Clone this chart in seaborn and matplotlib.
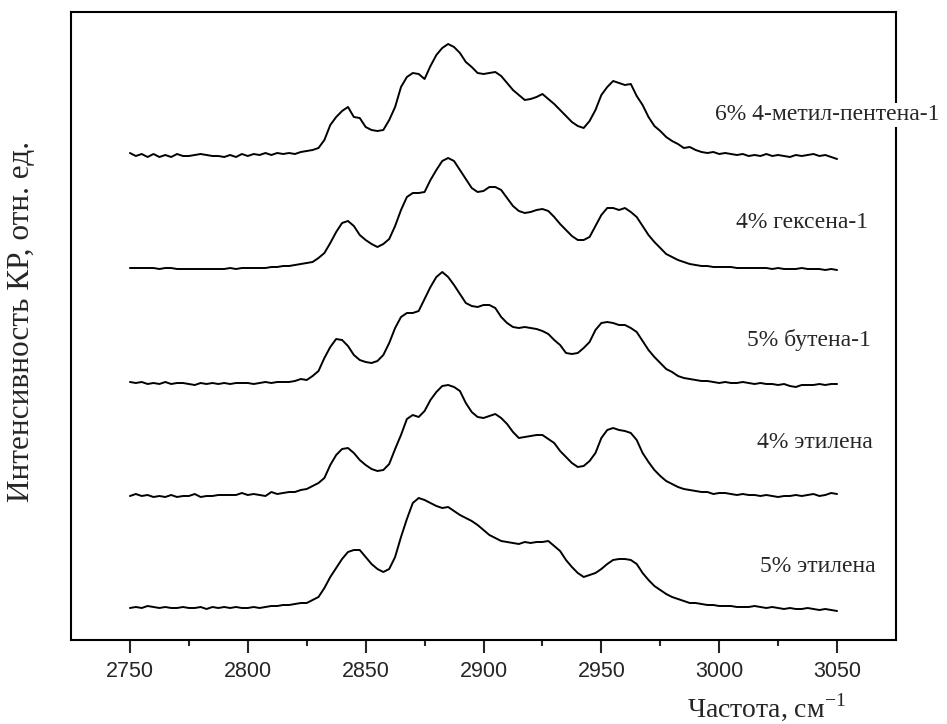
import numpy as np
import pandas as pd
import matplotlib
matplotlib.use("Agg")
import matplotlib.pyplot as plt
import seaborn as sns

# Raman shift grid, cm^-1 (step 2.5)
wavenumber = np.arange(2750.0, 3050.0 + 0.1, 2.5)

labels = ["6% 4-метил-пентена-1", "4% гексена-1", "5% бутена-1", "4% этилена", "5% этилена"]
offsets = [485, 372, 257, 145, 33]

methylpentene_6 = [
    2, -1, 1, -2, 1, -2, 0, -2, 1, -1, -1, 0, 1, 0, -1, -1, -2, 0, -2, 1,
    -1, 1, 0, 2, 0, 2, 1, 2, 1, 3, 4, 5, 7, 15, 30, 38, 44, 48, 38, 37,
    28, 25, 24, 25, 35, 48, 68, 78, 82, 81, 76, 89, 100, 107, 111, 108, 102, 93, 88, 82,
    81, 82, 83, 79, 72, 65, 60, 55, 56, 58, 61, 56, 51, 45, 39, 33, 29, 27, 34, 45,
    60, 68, 74, 72, 70, 71, 59, 50, 38, 29, 24, 18, 14, 11, 7, 8, 5, 3, 2, 3,
    1, 2, 1, 0, 1, -1, 0, -1, 1, -1, 0, -1, -2, 0, -1, 0, 1, -1, 0, -2,
    -4]
hexene_4 = [
    0, 0, 0, 0, 0, -1, 0, 0, -1, -1, -1, -1, -1, -1, -1, -1, -1, 0, -1, 0,
    0, 0, 0, 0, 1, 1, 2, 2, 3, 4, 5, 6, 10, 15, 25, 36, 45, 47, 42, 33,
    28, 24, 21, 24, 29, 42, 58, 71, 75, 75, 76, 88, 98, 107, 110, 107, 98, 89, 80, 76,
    77, 81, 81, 78, 70, 62, 57, 55, 56, 58, 59, 57, 51, 44, 38, 32, 28, 28, 31, 42,
    53, 60, 60, 58, 60, 56, 51, 42, 33, 26, 20, 14, 11, 8, 6, 4, 3, 2, 2, 1,
    1, 1, 1, 0, 0, 0, 0, 0, 0, -1, 0, -1, -1, -1, 0, -1, -1, -1, -2, -1,
    -2]
butene_5 = [
    1, 0, 1, -1, 0, -1, 1, -1, 0, 0, -1, -2, 0, -1, 0, -1, 0, -1, 0, 0,
    0, -1, 0, 1, 0, 1, 1, 1, 2, 4, 3, 7, 12, 25, 36, 44, 43, 37, 28, 23,
    21, 20, 22, 28, 40, 55, 66, 70, 70, 72, 84, 96, 106, 111, 106, 98, 89, 80, 77, 76,
    78, 78, 75, 66, 60, 56, 55, 56, 55, 54, 52, 49, 43, 38, 30, 29, 30, 35, 41, 53,
    60, 61, 60, 58, 58, 55, 51, 42, 33, 26, 20, 14, 11, 7, 5, 4, 3, 2, 2, 1,
    0, 1, 0, 0, 1, 0, -1, 0, -1, -1, -2, -1, -3, -4, -2, -2, -2, -1, -2, -1,
    -1]
ethylene_4 = [
    -1, 1, -1, 0, -2, -1, -2, 0, -2, -1, -1, 1, -2, -1, -1, 0, 0, 0, 0, 2,
    0, 1, 0, -1, 3, 1, 2, 3, 3, 5, 6, 9, 12, 17, 30, 40, 46, 47, 42, 35,
    30, 26, 24, 25, 31, 46, 60, 76, 80, 78, 84, 95, 103, 109, 110, 108, 104, 92, 83, 78,
    77, 79, 81, 77, 71, 63, 57, 58, 59, 60, 60, 56, 52, 44, 38, 32, 28, 29, 34, 42,
    57, 65, 67, 65, 64, 62, 55, 42, 33, 25, 19, 14, 11, 8, 6, 5, 4, 3, 3, 1,
    2, 2, 1, 0, 1, 0, 0, -1, 0, -1, -2, -1, -1, 0, -1, 0, 1, -1, 0, 2,
    1]
ethylene_5 = [
    -1, 0, -1, 1, 0, -1, 0, -1, -1, 0, -1, -1, 0, -2, 0, -1, 0, -1, 0, -1,
    -1, 0, -1, 0, 1, 1, 2, 2, 3, 4, 4, 7, 10, 19, 30, 39, 48, 55, 57, 57,
    50, 43, 38, 35, 38, 50, 70, 88, 104, 109, 107, 104, 101, 99, 100, 96, 92, 89, 86, 82,
    77, 72, 69, 66, 65, 64, 63, 65, 64, 65, 65, 66, 61, 56, 47, 40, 34, 30, 32, 34,
    38, 43, 47, 48, 48, 47, 43, 34, 27, 21, 17, 13, 10, 8, 6, 4, 4, 3, 2, 2,
    1, 1, 1, 0, 0, 0, 1, 0, -1, 0, -1, -2, -1, -2, -2, -1, -2, -3, -2, -3,
    -4]

series = [methylpentene_6, hexene_4, butene_5, ethylene_4, ethylene_5]

frames = []
for lab, off, vals in zip(labels, offsets, series):
    frames.append(pd.DataFrame({
        "wavenumber": wavenumber,
        "intensity": np.asarray(vals, dtype=float) + off,
        "sample": lab,
    }))
df = pd.concat(frames, ignore_index=True)

sns.set_style("ticks")
plt.rcParams["font.family"] = ["Liberation Serif", "DejaVu Serif"]
plt.rcParams["mathtext.fontset"] = "custom"
plt.rcParams["mathtext.rm"] = "Liberation Serif"

fig = plt.figure(figsize=(9.47, 7.24), dpi=100)
ax = fig.add_axes([71 / 947, 1 - 640 / 724, (896 - 71) / 947, (640 - 12) / 724])

sns.lineplot(data=df, x="wavenumber", y="intensity", hue="sample",
             palette=["black"] * len(labels), estimator=None, sort=False,
             legend=False, linewidth=1.4, ax=ax)

ax.set_xlim(2725, 3075)
ax.set_ylim(0, 628)
ax.set_xticks([2750, 2800, 2850, 2900, 2950, 3000, 3050])
ax.set_xticks(np.arange(2775, 3075, 50), minor=True)
ax.set_yticks([])
ax.tick_params(axis="x", which="major", direction="out", length=9, width=1.5,
               labelsize=15.5, pad=6)
ax.tick_params(axis="x", which="minor", direction="out", length=4.5, width=1.5)
for lab in ax.get_xticklabels():
    lab.set_fontfamily(["Liberation Sans", "DejaVu Sans"])
for sp in ax.spines.values():
    sp.set_visible(True)
    sp.set_linewidth(1.5)
    sp.set_color("black")

ax.set_xlabel("Частота, см$^{\\mathregular{-1}}$", fontsize=20)
ax.xaxis.set_label_coords((766 - 71) / 825, (640 - 707) / 628)
ax.xaxis.label.set_va("center")
ax.set_ylabel("")
fig.text(22 / 947, 1 - 322 / 724, "Интенсивность КР, отн. ед.", fontsize=22.5,
         rotation=90, ha="center", va="center")

label_x = [2998, 3007.2, 3011.9, 3016.1, 3017.4]
label_y = [525, 417, 300, 197, 74]
for lab, lx, ly in zip(labels, label_x, label_y):
    t = ax.text(lx, ly, lab, fontsize=17, ha="left", va="center", clip_on=False,
                zorder=5)
    if lab.startswith("6%"):
        t.set_bbox(dict(facecolor="white", edgecolor="none", pad=1))

fig.savefig("out.png", dpi=100)
